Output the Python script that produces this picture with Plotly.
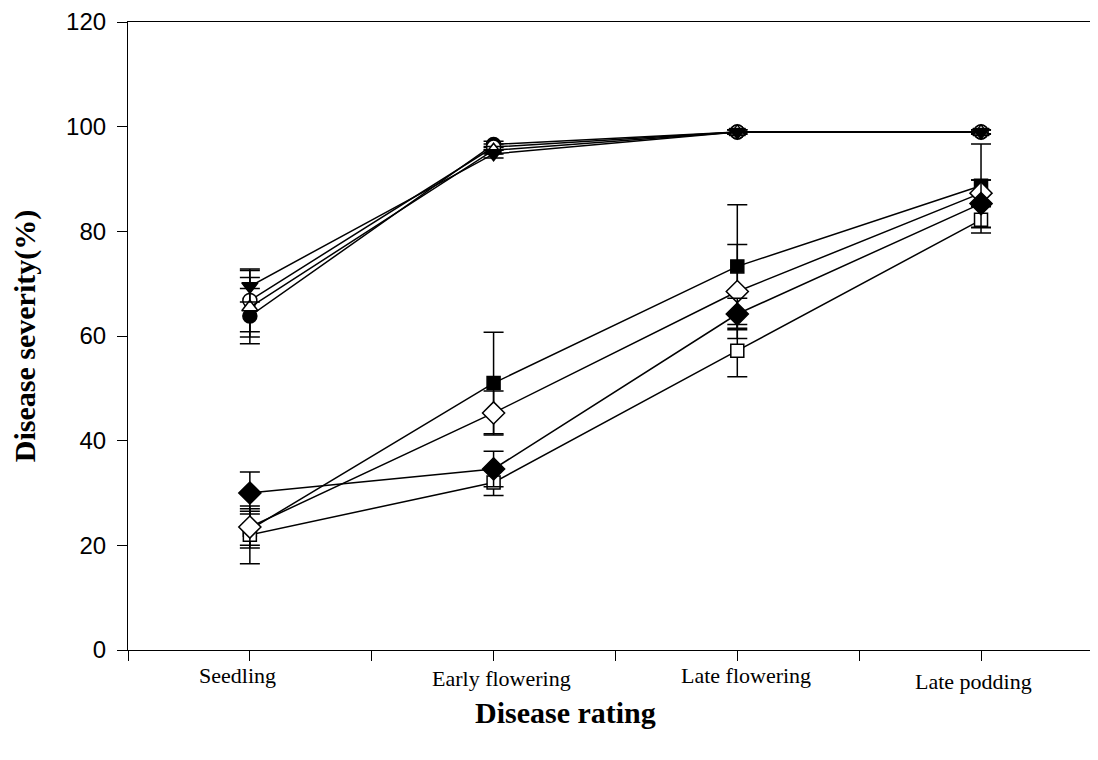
import plotly.graph_objects as go

stages = ["Seedling", "Early flowering", "Late flowering", "Late podding"]
x_pos = [1, 2, 3, 4]

# upper group
filled_circle = [63.8, 96.6, 99.0, 99.0]
filled_circle_err = [5.3, 0.6, 0.4, 0.4]
open_circle = [66.8, 96.1, 99.0, 99.0]
open_circle_err = [6.0, 0.6, 0.4, 0.4]
open_triangle = [65.5, 95.5, 99.0, 99.0]
open_triangle_err = [5.7, 0.7, 0.4, 0.4]
filled_tri_down = [69.5, 94.8, 99.0, 99.0]
filled_tri_down_err = [3.0, 0.8, 0.4, 0.4]

# lower group
filled_square = [23.0, 51.0, 73.3, 88.7]
filled_square_err = [3.5, 9.7, 11.8, 8.0]
open_square = [22.0, 32.0, 57.2, 82.2]
open_square_err = [5.5, 2.5, 5.0, 2.5]
open_diamond = [23.5, 45.3, 68.5, 87.3]
open_diamond_err = [3.5, 4.2, 9.0, 2.5]
filled_diamond = [30.0, 34.6, 64.2, 85.3]
filled_diamond_err = [4.0, 3.4, 3.0, 4.5]

y_ticks = [0, 20, 40, 60, 80, 100, 120]

series = [
    (filled_circle, filled_circle_err, "circle", "black", 14),
    (open_circle, open_circle_err, "circle", "white", 14),
    (open_triangle, open_triangle_err, "triangle-up", "white", 14),
    (filled_tri_down, filled_tri_down_err, "triangle-down", "black", 14),
    (filled_square, filled_square_err, "square", "black", 13),
    (open_square, open_square_err, "square", "white", 13),
    (open_diamond, open_diamond_err, "diamond", "white", 17),
    (filled_diamond, filled_diamond_err, "diamond", "black", 17),
]

fig = go.Figure()
for vals, err, sym, fill, size in series:
    fig.add_trace(go.Scatter(
        x=x_pos, y=vals, mode="lines+markers",
        line=dict(color="black", width=1.5),
        marker=dict(symbol=sym, color=fill, size=size,
                    line=dict(color="black", width=1.5)),
        error_y=dict(type="data", array=err, visible=True,
                     color="black", thickness=1.5, width=10),
        showlegend=False,
    ))

label_shift = [(-12, -25), (8, -28), (9, -25), (-8, -31)]
for s, xp, (dx, dy) in zip(stages, x_pos, label_shift):
    fig.add_annotation(x=xp, y=0, xref="x", yref="y", text=s, showarrow=False,
                       yanchor="middle", xshift=dx, yshift=dy,
                       font=dict(family="Liberation Serif", size=22, color="black"))

fig.add_annotation(x=0.4515, y=-0.0997, xref="paper", yref="paper", yanchor="middle",
                   text="<b>Disease rating</b>", showarrow=False,
                   font=dict(family="Liberation Serif", size=30, color="black"))

fig.add_annotation(x=-0.106, y=0.5, xref="paper", yref="paper", xanchor="center",
                   yanchor="middle", textangle=-90,
                   text="<b>Disease severity(%)</b>", showarrow=False,
                   font=dict(family="Liberation Serif", size=30, color="black"))

fig.update_layout(
    width=1090, height=744,
    margin=dict(l=120, r=0, t=10, b=102),
    paper_bgcolor="white", plot_bgcolor="white",
    xaxis=dict(range=[0.5, 4.48], tickvals=[0.5, 1, 1.5, 2, 2.5, 3, 3.5, 4, 4.5],
               showticklabels=False, ticks="outside", ticklen=10, tickwidth=1,
               tickcolor="black", showline=True, linecolor="black", linewidth=1.2,
               mirror=True, showgrid=False, zeroline=False),
    yaxis=dict(range=[0, 120], tickvals=y_ticks, ticks="outside", ticklen=10,
               tickwidth=1, tickcolor="black", showline=True, linecolor="black",
               linewidth=1.2, showgrid=False, zeroline=False,
               ticklabeloverflow="allow", ticklabelstandoff=6,
               tickfont=dict(family="Liberation Sans", size=24, color="black")),
)

fig.write_html("out.html")
